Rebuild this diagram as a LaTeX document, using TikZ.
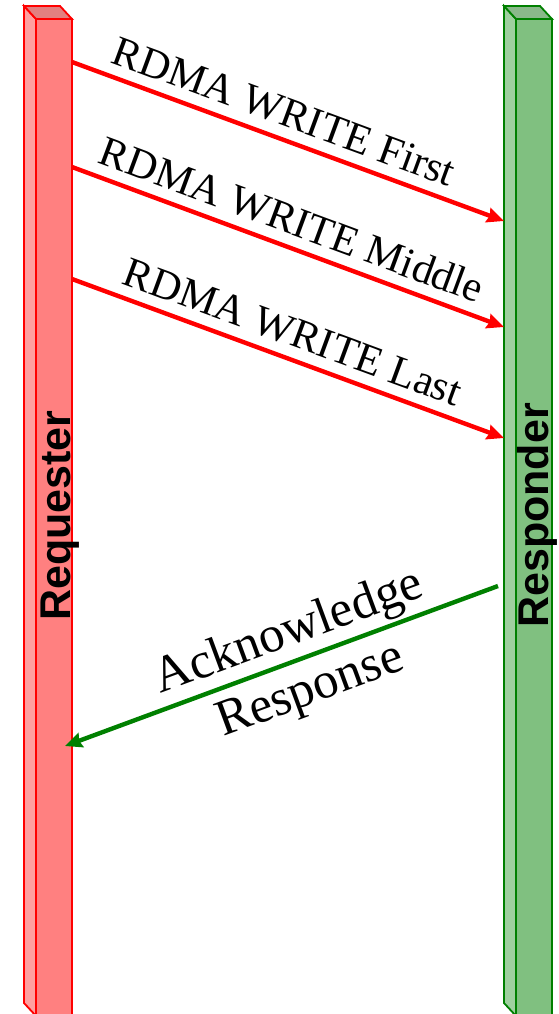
\documentclass[tikz,border=0pt]{standalone}
\usepackage{fontspec}
\setmainfont{Liberation Serif}
\newfontfamily\labelfont{Liberation Sans}
\usetikzlibrary{arrows.meta}

\definecolor{reqline}{HTML}{FF0000}
\definecolor{reqfront}{HTML}{FF8080}
\definecolor{reqside}{HTML}{FFA0A0}
\definecolor{reqtop}{HTML}{E38080}
\definecolor{respline}{HTML}{008000}
\definecolor{respfront}{HTML}{80C080}
\definecolor{respside}{HTML}{9FD09F}
\definecolor{resptop}{HTML}{8AB98A}

\tikzset{
  reqbar/.style={draw=reqline, line width=1.8pt, line join=miter},
  respbar/.style={draw=respline, line width=1.8pt, line join=miter},
  frontface/.style={rectangle, inner sep=0pt, outer sep=0pt,
    minimum width=36pt, minimum height=997pt, anchor=north west},
  barlabel/.style={font=\labelfont\bfseries\fontsize{43}{50}\selectfont,
    inner sep=0pt, anchor=base, rotate=90},
  writearrow/.style={draw=reqline, line width=4.4pt,
    -{Stealth[length=17pt,width=15pt,inset=2pt]}},
  ackarrow/.style={draw=respline, line width=4.4pt,
    -{Stealth[length=17pt,width=15pt,inset=2pt]}},
  writelabel/.style={sloped, above, pos=0.47, inner sep=10pt,
    font=\fontsize{42.5}{48}\selectfont},
  acklabel/.style={sloped, align=center, inner sep=0pt,
    font=\fontsize{51}{62}\selectfont}
}

\begin{document}
\begin{tikzpicture}[x=1pt, y=-1pt]
\useasboundingbox (0,0) rectangle (558,1014);

% Requester column: side face, top face, front face
\path[reqbar, fill=reqside] (24,6) -- (36,19) -- (36,1016) -- (24,1003) -- cycle;
\path[reqbar, fill=reqtop] (24,6) -- (60,6) -- (72,19) -- (36,19) -- cycle;
\node[reqbar, fill=reqfront, frontface] (req) at (36,19) {};
\node[barlabel] (reqlabel) at (70.7,515.5) {Requester};

% Responder column: side face, top face, front face
\path[respbar, fill=respside] (504,6) -- (516,19) -- (516,1016) -- (504,1003) -- cycle;
\path[respbar, fill=resptop] (504,6) -- (540,6) -- (552,19) -- (516,19) -- cycle;
\node[respbar, fill=respfront, frontface] (resp) at (516,19) {};
\node[barlabel] (resplabel) at (548.3,515.5) {Responder};

% message end points on the columns
\coordinate (w1s) at (72,62);
\coordinate (w1e) at (504,221);
\coordinate (w2s) at (72,167);
\coordinate (w2e) at (504,327);
\coordinate (w3s) at (72,279);
\coordinate (w3e) at (504,438);
\coordinate (acks) at (498,586);
\coordinate (acke) at (65,746);

% write messages
\draw[writearrow] (w1s) -- node[writelabel] (l1) {RDMA WRITE First} (w1e);
\draw[writearrow] (w2s) -- node[writelabel, pos=0.488] (l2) {RDMA WRITE Middle} (w2e);
\draw[writearrow] (w3s) -- node[writelabel, pos=0.49] (l3) {RDMA WRITE Last} (w3e);

% acknowledgement
\draw[ackarrow] (acks) -- node[acklabel, pos=0.46, yshift=-3pt] (l4) {Acknowledge\\Response} (acke);
\end{tikzpicture}
\end{document}
